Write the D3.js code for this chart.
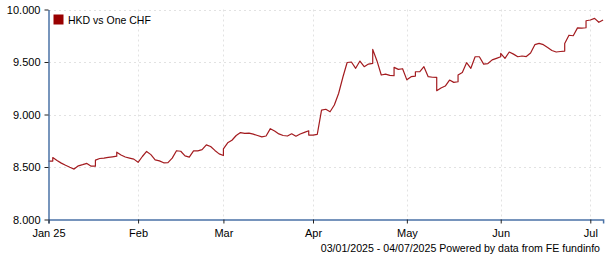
<!DOCTYPE html>
<html><head><meta charset="utf-8">
<script src="https://cdn.jsdelivr.net/npm/d3@7"></script>
<style>
html,body{margin:0;padding:0;background:#fff;}
svg{display:block;font-family:"Liberation Sans",Arial,sans-serif;}
</style></head>
<body>
<svg id="chart" width="605" height="260"></svg>
<script>
// Series: HKD vs One CHF, one value per weekday from 03/01/2025 to 04/07/2025.
// A pair means the line steps vertically on that day (from first to second value).
const seriesName = "HKD vs One CHF";
const values = [
  8.556,[8.556,8.59],8.562,8.537,8.516,8.497,8.48,8.511,8.522,8.534,
  8.508,[8.508,8.565],8.581,8.585,8.591,8.597,[8.603,8.641],8.615,8.595,8.585,
  8.575,8.545,8.60,8.648,8.618,8.568,8.558,8.540,8.542,8.585,
  8.655,8.650,8.606,8.594,8.654,8.654,8.665,8.711,8.695,8.658,
  8.625,[8.61,8.673],8.73,8.755,8.80,8.828,8.82,8.823,8.813,8.80,
  8.787,8.795,8.865,8.843,8.815,8.80,8.795,8.816,8.793,8.814,
  8.83,[8.845,8.804],8.804,8.81,9.042,9.05,9.026,9.09,9.20,9.355,
  9.495,9.50,9.44,9.509,9.455,9.48,[9.487,9.62],9.51,9.376,9.385,
  9.373,[9.369,9.449],9.43,9.436,9.33,9.36,[9.366,9.407],9.407,9.455,9.36,
  9.355,[9.354,9.226],9.253,9.271,9.328,9.306,[9.312,9.376],9.40,9.493,9.44,
  9.55,9.55,9.48,9.485,9.52,9.535,[9.55,9.582],9.535,9.595,9.575,
  9.55,9.557,9.552,9.585,9.665,9.677,9.665,9.638,9.61,9.595,
  9.60,[9.604,9.677],9.755,9.75,9.825,9.823,[9.826,9.893],9.90,9.915,9.878,
  9.90
];
// x ticks: weekday index of the first trading day of each month
const monthTickIndex = [0,21,41,62,84,106,127];
const monthTickLabels = ["Jan 25","Feb","Mar","Apr","May","Jun","Jul"];
const yTicks = [8.0,8.5,9.0,9.5,10.0];
const footerText = "03/01/2025 - 04/07/2025 Powered by data from FE fundinfo";

const svg = d3.select("#chart");
const axisColor = "#4a72a6";
const lineColor = "#a31b1f";

const x = d3.scaleLinear().domain([0, values.length - 1]).range([48.5, 603.1]);
const y = d3.scaleLinear().domain([8, 10]).range([219.5, 9.5]);

// flatten to points
const pts = [];
values.forEach((v, i) => {
  if (Array.isArray(v)) v.forEach(w => pts.push([i, w]));
  else pts.push([i, v]);
});

// grid
const grid = svg.append("g");
grid.selectAll("line.h").data(yTicks.filter(d => d > 8)).join("line")
  .attr("x1", 49).attr("x2", 603)
  .attr("y1", d => Math.round(y(d)) + 0.5).attr("y2", d => Math.round(y(d)) + 0.5)
  .attr("stroke", "#e2e2e2").attr("stroke-dasharray", "2,3");
grid.selectAll("line.v").data(monthTickIndex.filter(d => d > 0)).join("line")
  .attr("x1", d => Math.round(x(d)) + 0.5).attr("x2", d => Math.round(x(d)) + 0.5)
  .attr("y1", 9.5).attr("y2", 219)
  .attr("stroke", "#e2e2e2").attr("stroke-dasharray", "2,3");

// line
svg.append("path").datum(pts)
  .attr("fill", "none").attr("stroke", lineColor).attr("stroke-width", 1.2)
  .attr("stroke-linejoin", "round")
  .attr("d", d3.line().x(d => x(d[0])).y(d => y(d[1])));

// axes
const yAxis = svg.append("g").attr("transform", "translate(48.5,0)")
  .call(d3.axisLeft(y).tickValues(yTicks).tickFormat(d3.format(".3f")).tickSize(4).tickSizeOuter(0).tickPadding(4));
const xAxis = svg.append("g").attr("transform", "translate(0,219.5)")
  .call(d3.axisBottom(x).tickValues(monthTickIndex).tickFormat((d, i) => monthTickLabels[i]).tickSize(4).tickSizeOuter(4).tickPadding(6));
[yAxis, xAxis].forEach(a => {
  a.select(".domain").attr("stroke", axisColor).attr("stroke-width", 1.5);
  a.selectAll(".tick line").attr("stroke", "#222");
  a.selectAll("text").attr("fill", "#000").style("font-size", "11px").style("font-family", '"Liberation Sans",Arial,sans-serif');
});

// legend
svg.append("rect").attr("x", 53.5).attr("y", 14.5).attr("width", 10).attr("height", 10).attr("fill", "#990000");
svg.append("text").attr("x", 68).attr("y", 23.5).attr("font-size", 10.5).attr("fill", "#000").text(seriesName);

// footer
svg.append("text").attr("x", 600).attr("y", 252).attr("text-anchor", "end")
  .attr("font-size", 10.6).attr("fill", "#000").text(footerText);
</script>
</body></html>
